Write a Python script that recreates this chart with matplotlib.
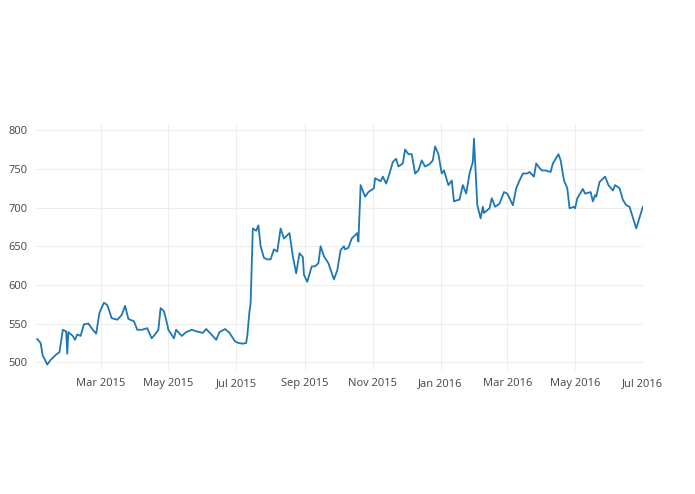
import matplotlib
matplotlib.use("Agg")
import matplotlib.pyplot as plt
import matplotlib.dates as mdates
import pandas as pd

days = [1,4,6,7,10,13,18,21,24,27,28,29,33,35,37,40,43,47,51,54,57,61,64,68,73,77,80,83,88,91,95,100,104,107,110,112,115,118,119,124,126,131,135,140,144,150,153,159,162,165,170,174,179,182,186,189,190,192,193,195,198,200,202,205,208,211,214,217,220,223,228,231,234,237,240,241,244,248,251,254,256,259,263,268,271,274,277,278,
        281,284,289,290,292,296,299,304,305,310,312,315,318,321,324,326,330,332,335,338,341,344,347,350,354,357,359,362,365,367,371,374,376,380,381,384,387,390,393,394,396,397,400,402,403,408,410,413,417,421,424,429,432,435,438,442,444,448,450,452,455,458,463,465,470,472,475,478,480,484,485,487,492,494,499,501,503,504,507,512,515,519,521,525,528,531,534,540,546]
values = [530,525,508,506,497,503,510,513,542,540,511,539,534,529,536,534,549,550,542,537,564,577,574,557,555,561,573,556,553,542,542,544,531,536,542,570,566,549,542,531,542,534,539,542,540,538,543,534,529,539,543,538,527,525,524,525,534,566,576,673,670,677,650,635,633,633,646,643,673,660,667,637,615,641,636,613,604,624,624,628,650,637,628,607,619,645,650,646,
          648,660,667,656,729,714,720,725,738,734,740,731,744,759,763,753,757,775,769,769,744,748,761,753,756,761,779,769,744,748,729,735,708,710,710,729,718,744,759,789,731,703,686,701,693,699,712,701,705,720,718,703,725,735,744,744,746,740,757,753,748,748,746,757,769,761,735,725,699,701,699,712,724,718,720,708,716,714,733,740,729,722,729,725,710,703,701,673,701]

dates = pd.Timestamp("2015-01-02") + pd.to_timedelta(days, unit="D")

fig = plt.figure(figsize=(6.95, 4.94), dpi=100)
ax = fig.add_axes([0.052, 0.251, 0.873, 0.498])
ax.plot(dates, values, color="#1f77b4", lw=1.3)
ax.set_xlim(pd.Timestamp("2015-01-02"), pd.Timestamp("2016-07-01"))
ax.set_ylim(490, 808)
ax.set_yticks([500, 550, 600, 650, 700, 750, 800])
ax.xaxis.set_major_formatter(mdates.DateFormatter("%b %Y"))
ticks = [pd.Timestamp(s) for s in ["2015-03-01","2015-05-01","2015-07-01","2015-09-01","2015-11-01","2016-01-01","2016-03-01","2016-05-01","2016-07-01"]]
ax.set_xticks(ticks)
for s in ax.spines.values():
    s.set_visible(False)
ax.grid(True, color="#eeeeee", lw=0.8)
ax.set_axisbelow(True)
ax.tick_params(length=0, labelsize=8, colors="#444444", pad=6)
for t in ax.get_xticklabels() + ax.get_yticklabels():
    t.set_fontfamily("Open Sans")
fig.savefig("out.png", dpi=100)
